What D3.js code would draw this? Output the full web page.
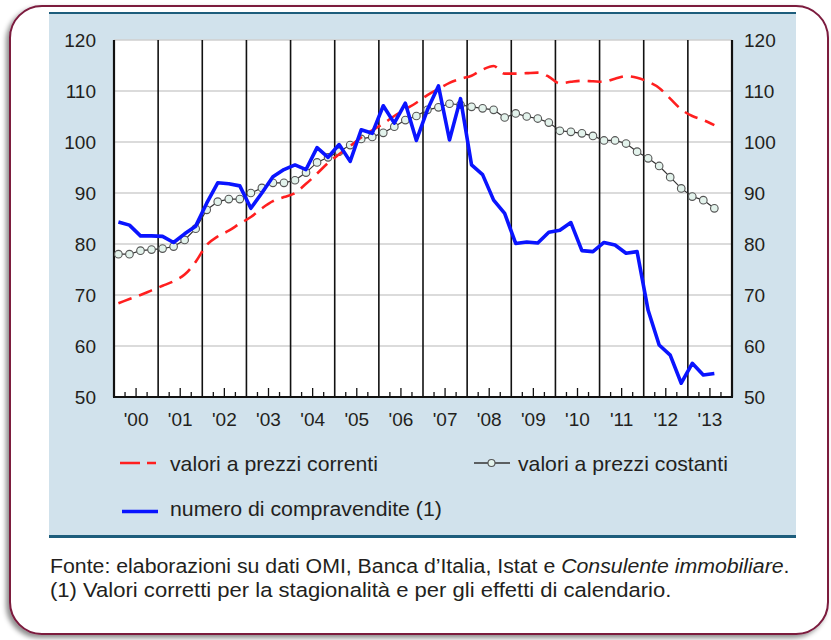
<!DOCTYPE html>
<html>
<head>
<meta charset="utf-8">
<script src="https://cdn.jsdelivr.net/npm/d3@7"></script>
<style>
  body { margin: 0; background: #fff; }
  svg text { font-family: "Liberation Sans", Arial, sans-serif; fill: #231f20; }
</style>
</head>
<body>
<svg id="chart" width="831" height="640"></svg>
<script>
// --- data (quarterly, 2000Q1 - 2013Q3) ---
var yearLabels = ["'00","'01","'02","'03","'04","'05","'06","'07","'08","'09","'10","'11","'12","'13"];
var yTicks = [50, 60, 70, 80, 90, 100, 110, 120];

// valori a prezzi correnti
var correnti = [68.4, 69.2, 70.0, 70.9, 71.8, 72.7, 74.0, 76.5, 79.8, 81.5,
                82.6, 84.0, 85.3, 87.0, 88.4, 89.2, 90.0, 91.8, 93.8, 95.9,
                97.6, 99.2, 100.9, 102.3, 103.6, 105.1, 106.4, 107.7, 109.2, 110.4,
                111.6, 112.4, 113.0, 114.2, 114.9, 113.4, 113.4, 113.5, 113.6, 112.8,
                111.5, 111.8, 112.0, 111.9, 111.8, 112.4, 112.9, 112.6, 111.8, 110.6,
                108.5, 106.4, 105.1, 104.3, 103.3];

// valori a prezzi costanti
var costanti = [78.0, 78.0, 78.7, 78.9, 79.1, 79.5, 80.8, 83.0, 86.7, 88.3,
                88.8, 88.8, 90.0, 91.0, 92.0, 92.0, 92.5, 94.0, 96.0, 97.0,
                98.1, 99.4, 100.6, 101.0, 101.8, 103.0, 104.3, 105.1, 106.3, 106.8,
                107.5, 107.3, 106.9, 106.6, 106.3, 104.8, 105.6, 105.0, 104.6, 103.8,
                102.2, 102.0, 101.7, 101.2, 100.3, 100.3, 99.7, 98.1, 96.8, 95.3,
                93.1, 90.9, 89.3, 88.6, 87.0];

// numero di compravendite (1)
var compravendite = [84.3, 83.7, 81.6, 81.6, 81.5, 80.3, 82.0, 83.5, 88.0, 92.0,
                     91.8, 91.4, 87.0, 90.0, 93.2, 94.6, 95.5, 94.6, 98.9, 97.0,
                     99.5, 96.2, 102.4, 101.7, 107.1, 103.7, 107.6, 100.3, 106.3, 111.0,
                     100.4, 108.5, 95.5, 93.6, 88.6, 86.0, 80.1, 80.4, 80.2, 82.3,
                     82.7, 84.2, 78.7, 78.5, 80.3, 79.8, 78.2, 78.5, 67.0, 60.2,
                     58.2, 52.7, 56.6, 54.3, 54.6];

var legendLabels = ["valori a prezzi correnti", "valori a prezzi costanti", "numero di compravendite (1)"];
var noteLines = ["Fonte: elaborazioni su dati OMI, Banca d\u2019Italia, Istat e ",
                 "(1) Valori corretti per la stagionalit\u00e0 e per gli effetti di calendario."];

// quarter positions (fraction of year)
var quarters = correnti.map(function(d, i) { return 2000 + Math.floor(i / 4) + (i % 4) / 4 + 0.1; });

var svg = d3.select("#chart");

var RED = "#ff1f1f", BLUE = "#0a14ff";

// the source text is a bit wider than Arial, so stretch each line to its width
function fitWidth(sel, x0, w) {
  var len = sel.node().getComputedTextLength();
  var s = w / len;
  sel.attr("transform", "translate(" + x0 + ",0) scale(" + s + ",1) translate(" + (-x0) + ",0)");
}

// frame with shadow
var defs = svg.append("defs");
var f = defs.append("filter").attr("id", "shadow").attr("x", "-5%").attr("y", "-5%").attr("width", "110%").attr("height", "110%");
f.append("feDropShadow").attr("dx", -3).attr("dy", 3).attr("stdDeviation", 2.5).attr("flood-color", "#000").attr("flood-opacity", 0.45);

svg.append("rect")
    .attr("x", 10).attr("y", 6).attr("width", 818).attr("height", 628)
    .attr("rx", 32).attr("ry", 32)
    .attr("fill", "#fff").attr("stroke", "#7b1a3e").attr("stroke-width", 2)
    .attr("filter", "url(#shadow)");

// light blue panel
svg.append("rect").attr("x", 49).attr("y", 13).attr("width", 747).attr("height", 524).attr("fill", "#d1e2ec");
svg.append("line").attr("x1", 49).attr("x2", 796).attr("y1", 13).attr("y2", 13).attr("stroke", "#1d5d7c").attr("stroke-width", 2);
svg.append("line").attr("x1", 49).attr("x2", 796).attr("y1", 536.5).attr("y2", 536.5).attr("stroke", "#1d5d7c").attr("stroke-width", 3);

// scales
var x = d3.scaleLinear().domain([2000, 2014]).range([114, 732]);
var y = d3.scaleLinear().domain([50, 120]).range([397, 40]);

// plot background
svg.append("rect").attr("x", x(2000)).attr("y", y(120)).attr("width", x(2014) - x(2000)).attr("height", y(50) - y(120)).attr("fill", "#fff");

// horizontal grid
svg.append("g").selectAll("line")
    .data(yTicks.filter(function(d) { return d > 50; }))
    .enter().append("line")
    .attr("x1", x(2000)).attr("x2", x(2014))
    .attr("y1", function(d) { return y(d); }).attr("y2", function(d) { return y(d); })
    .attr("stroke", "#cfcfcf").attr("stroke-width", 1.5);

// vertical year lines
svg.append("g").selectAll("line")
    .data(d3.range(2000, 2015))
    .enter().append("line")
    .attr("x1", function(d) { return x(d); }).attr("x2", function(d) { return x(d); })
    .attr("y1", y(120)).attr("y2", y(50))
    .attr("stroke", "#111").attr("stroke-width", function(d) { return (d === 2000 || d === 2014) ? 2.2 : 1.6; });

// bottom axis line
svg.append("line").attr("x1", x(2000) - 1).attr("x2", x(2014) + 1).attr("y1", y(50)).attr("y2", y(50))
    .attr("stroke", "#111").attr("stroke-width", 2.2);

// quarter ticks
var qTicks = [];
d3.range(2000, 2014).forEach(function(yr) { [0.25, 0.5, 0.75].forEach(function(q) { qTicks.push({ v: yr + q, half: q === 0.5 }); }); });
svg.append("g").selectAll("line")
    .data(qTicks)
    .enter().append("line")
    .attr("x1", function(d) { return x(d.v); }).attr("x2", function(d) { return x(d.v); })
    .attr("y1", y(50)).attr("y2", function(d) { return y(50) - (d.half ? 9 : 5); })
    .attr("stroke", "#111").attr("stroke-width", 1.3);

// x labels
svg.append("g").selectAll("text")
    .data(yearLabels)
    .enter().append("text")
    .attr("x", function(d, i) { return x(2000 + i + 0.5); })
    .attr("y", 426)
    .attr("text-anchor", "middle")
    .attr("font-size", 19)
    .text(function(d) { return d; });

// y labels left & right
svg.append("g").selectAll("text")
    .data(yTicks)
    .enter().append("text")
    .attr("x", 96).attr("y", function(d) { return y(d); })
    .attr("dy", "0.36em").attr("text-anchor", "end").attr("font-size", 19)
    .text(function(d) { return d; });
svg.append("g").selectAll("text")
    .data(yTicks)
    .enter().append("text")
    .attr("x", 744).attr("y", function(d) { return y(d); })
    .attr("dy", "0.36em").attr("text-anchor", "start").attr("font-size", 19)
    .text(function(d) { return d; });

var line = d3.line()
    .x(function(d, i) { return x(quarters[i]); })
    .y(function(d) { return y(d); });

// costanti: thin line with circles
svg.append("path").datum(costanti).attr("d", line)
    .attr("fill", "none").attr("stroke", "#333").attr("stroke-width", 1.2);
svg.append("g").selectAll("circle")
    .data(costanti)
    .enter().append("circle")
    .attr("cx", function(d, i) { return x(quarters[i]); })
    .attr("cy", function(d) { return y(d); })
    .attr("r", 3.8)
    .attr("fill", "#e3f3ec").attr("stroke", "#555").attr("stroke-width", 1.1);

// correnti: red dashed
svg.append("path").datum(correnti).attr("d", line.curve(d3.curveMonotoneX))
    .attr("fill", "none").attr("stroke", RED).attr("stroke-width", 2.6)
    .attr("stroke-dasharray", "14,8");

// compravendite: blue
svg.append("path").datum(compravendite).attr("d", line.curve(d3.curveLinear))
    .attr("fill", "none").attr("stroke", BLUE).attr("stroke-width", 3.6)
    .attr("stroke-linejoin", "round");

// legend
var lg = svg.append("g");
lg.append("line").attr("x1", 120).attr("x2", 156).attr("y1", 463).attr("y2", 463)
    .attr("stroke", RED).attr("stroke-width", 2.6).attr("stroke-dasharray", "20,7,9,50");
var t1 = lg.append("text").attr("x", 170).attr("y", 471.5).attr("font-size", 21).text(legendLabels[0]);
fitWidth(t1, 170, 208);

lg.append("line").attr("x1", 474).attr("x2", 510).attr("y1", 463).attr("y2", 463)
    .attr("stroke", "#333").attr("stroke-width", 1.5);
lg.append("circle").attr("cx", 491.5).attr("cy", 463).attr("r", 3.5)
    .attr("fill", "#e3f3ec").attr("stroke", "#555").attr("stroke-width", 1.1);
var t2 = lg.append("text").attr("x", 518).attr("y", 471.5).attr("font-size", 21).text(legendLabels[1]);
fitWidth(t2, 518, 210);

lg.append("line").attr("x1", 122).attr("x2", 158).attr("y1", 511.5).attr("y2", 511.5)
    .attr("stroke", BLUE).attr("stroke-width", 3.6);
var t3 = lg.append("text").attr("x", 170).attr("y", 516.5).attr("font-size", 21).text(legendLabels[2]);
fitWidth(t3, 170, 272);

// footnote
var note1 = svg.append("text").attr("x", 50).attr("y", 573).attr("font-size", 19.5);
note1.append("tspan").text(noteLines[0]);
note1.append("tspan").attr("font-style", "italic").text("Consulente immobiliare");
note1.append("tspan").text(".");
fitWidth(note1, 50, 740);
var note2 = svg.append("text").attr("x", 50).attr("y", 597).attr("font-size", 19.5).text(noteLines[1]);
fitWidth(note2, 50, 622);
</script>
</body>
</html>
